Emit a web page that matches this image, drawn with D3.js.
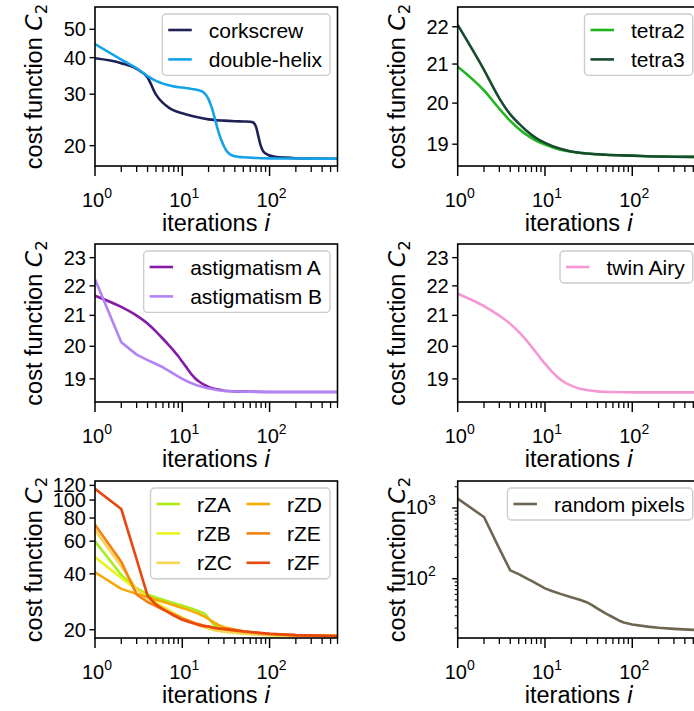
<!DOCTYPE html>
<html><head><meta charset="utf-8">
<script src="https://cdn.jsdelivr.net/npm/d3@7"></script>
<style>body{margin:0;background:#fff}svg{display:block}</style>
</head><body>
<svg id="c" width="694" height="711"></svg>
<script>
// ---------------- data ----------------
const xTicksMajor = [1, 10, 100];
const xTickExp = ["0", "1", "2"];

const corkX = [1,2,3,4,5,6,7,8,10,12,15,20,30,40,50,60,65,70,75,80,85,90,100,120,150,200,300,600];
const corkY = [39.8,38.3,36.6,34.2,29.9,28.0,27.0,26.4,25.8,25.4,25.0,24.6,24.35,24.25,24.2,24.15,24.0,23.2,21.3,19.8,19.1,18.8,18.5,18.3,18.2,18.12,18.08,18.05];
const helixX = [1,2,3,4,5,6,7,8,10,12,15,17,18,19,20,21,22,23,24,25,26,27,28,30,33,36,40,50,70,100,200,600];
const helixY = [44.5,39.4,36.8,34.6,33.3,32.6,32.2,31.9,31.6,31.35,31.0,30.6,30.2,29.6,28.8,27.8,26.7,25.5,24.3,23.2,22.3,21.5,20.9,19.9,19.0,18.6,18.4,18.25,18.15,18.1,18.07,18.05];

const tetraX = [1,2,3,4,5,6,8,10,15,20,30,50,100,200,600];
const tetra2Y = [20.93,20.32,19.86,19.56,19.37,19.24,19.08,18.99,18.87,18.82,18.78,18.75,18.73,18.71,18.70];
const tetra3Y = [22.05,20.85,20.12,19.72,19.50,19.34,19.14,19.03,18.89,18.83,18.78,18.75,18.73,18.71,18.70];

const astAX = [1,2,3,4,5,6,7,8,9,10,11,12,13,14,16,18,20,25,30,40,60,100,600];
const astAY = [21.66,21.28,20.99,20.73,20.47,20.24,20.04,19.86,19.69,19.52,19.37,19.23,19.11,19.02,18.90,18.82,18.76,18.69,18.65,18.63,18.62,18.61,18.61];
const astBX = [1,2,3,4,5,6,8,10,12,15,19,25,30,50,100,600];
const astBY = [22.23,20.13,19.74,19.57,19.45,19.35,19.15,19.0,18.9,18.8,18.73,18.67,18.64,18.62,18.61,18.61];

const airyX = [1,2,3,4,5,6,7,8,9,10,12,14,16,20,25,30,40,60,100,600];
const airyY = [21.73,21.31,20.99,20.72,20.46,20.22,19.99,19.79,19.61,19.46,19.22,19.05,18.93,18.80,18.71,18.67,18.63,18.61,18.6,18.6];

const rzX = [1,2,3,4,5,6,8,10,12,15,18,20,23,26,30,50,100,200,600];
const rZA = [59.9,39.5,33.5,31.0,29.8,29.0,27.8,27.0,26.3,25.3,24.4,23.0,21.3,20.6,20.0,19.3,18.8,18.6,18.5];
const rZB = [49.3,38.0,33.0,30.0,28.0,26.6,24.6,23.2,22.3,21.3,20.7,20.4,20.0,19.8,19.6,19.1,18.7,18.55,18.5];
const rZC = [69.0,44.0,33.0,29.5,27.5,26.1,24.3,23.1,22.2,21.2,20.6,20.3,19.9,19.7,19.5,19.0,18.7,18.55,18.5];
const rZD = [40.8,33.2,31.2,30.0,29.0,28.3,27.1,26.2,25.5,24.5,23.5,22.8,21.9,21.2,20.6,19.6,18.9,18.6,18.5];
const rZE = [73.7,46.5,31.0,28.2,26.8,25.7,24.2,23.0,22.3,21.5,21.0,20.8,20.5,20.3,20.1,19.5,19.0,18.7,18.5];
const rZF = [115,89.5,47.9,30.5,27.3,25.8,23.8,22.6,22.0,21.3,20.9,20.8,20.5,20.3,20.2,19.6,19.0,18.7,18.5];

const randX = [1,2,3,4,5,6,7,8,10,12,15,20,25,30,35,40,50,60,70,80,100,150,200,300,600];
const randY = [1355,747,266,131,116,103,93,85,73,67,61,54.5,50.5,46.5,42,37.8,32,28.5,25.7,24,22.5,21,20.2,19.5,18.7];

const yTicks1 = [20,30,40,50];
const yTicks2 = [19,20,21,22];
const yTicks3 = [19,20,21,22,23];
const yTicks5 = [20,40,60,80,100,120];
const yTicks6 = [100,1000];
const yTick6Exp = ["2","3"];

// ---------------- layout ----------------
const FONT = '"Liberation Sans", Arial, Helvetica, sans-serif';
const MATH = '"DejaVu Sans", sans-serif';
const cols = [{x0:95, x1:337.5},{x0:457.7, x1:700.2}];
const rows = [{y0:7, y1:166},{y0:244, y1:402},{y0:481, y1:638}];
const xDomain = [1, 600];

const panels = [
  {c:0, r:0, yd:[17.04,59.6], ticks:yTicks1, series:[
    {name:"corkscrew", x:corkX, y:corkY, color:"#1e2156", curve:"smooth"},
    {name:"double-helix", x:helixX, y:helixY, color:"#14a2e8", curve:"smooth"}], ncol:1},
  {c:1, r:0, yd:[18.49,22.55], ticks:yTicks2, series:[
    {name:"tetra2", x:tetraX, y:tetra2Y, color:"#1fb51f", curve:"smooth"},
    {name:"tetra3", x:tetraX, y:tetra3Y, color:"#184b2d", curve:"smooth"}], ncol:1},
  {c:0, r:1, yd:[18.32,23.5], ticks:yTicks3, series:[
    {name:"astigmatism A", x:astAX, y:astAY, color:"#851ca8", curve:"smooth"},
    {name:"astigmatism B", x:astBX, y:astBY, color:"#b283f5", curve:"linear"}], ncol:1},
  {c:1, r:1, yd:[18.32,23.5], ticks:yTicks3, series:[
    {name:"twin Airy", x:airyX, y:airyY, color:"#f497d4", curve:"smooth"}], ncol:1},
  {c:0, r:2, yd:[18.04,126.7], ticks:yTicks5, series:[
    {name:"rZA", x:rzX, y:rZA, color:"#aaec1c", curve:"linear"},
    {name:"rZB", x:rzX, y:rZB, color:"#e8f41c", curve:"linear"},
    {name:"rZC", x:rzX, y:rZC, color:"#f6d656", curve:"linear"},
    {name:"rZD", x:rzX, y:rZD, color:"#f7aa06", curve:"linear"},
    {name:"rZE", x:rzX, y:rZE, color:"#f6800e", curve:"linear"},
    {name:"rZF", x:rzX, y:rZF, color:"#e8470f", curve:"linear"}], ncol:2},
  {c:1, r:2, yd:[14.5,2410], ticks:yTicks6, exp:yTick6Exp, minor:true, series:[
    {name:"random pixels", x:randX, y:randY, color:"#6f6553", curve:"linear"}], ncol:1},
];

const svg = d3.select("#c");
svg.append("rect").attr("width",694).attr("height",711).attr("fill","#fff");
const defs = svg.append("defs");

panels.forEach((p, pi) => {
  const C = cols[p.c], R = rows[p.r];
  const x = d3.scaleLog().domain(xDomain).range([C.x0, C.x1]);
  const y = d3.scaleLog().domain(p.yd).range([R.y1, R.y0]);
  const g = svg.append("g");

  defs.append("clipPath").attr("id","clip"+pi).append("rect")
    .attr("x",C.x0).attr("y",R.y0).attr("width",C.x1-C.x0).attr("height",R.y1-R.y0);

  // data lines
  const lg = g.append("g").attr("clip-path","url(#clip"+pi+")");
  p.series.forEach(s => {
    const pts = s.x.map((v,i)=>[v, s.y[i]]);
    const line = d3.line().x(d=>x(d[0])).y(d=>y(d[1]))
      .curve(s.curve==="smooth" ? d3.curveMonotoneX : d3.curveLinear);
    lg.append("path").attr("d", line(pts)).attr("fill","none")
      .attr("stroke", s.color).attr("stroke-width",2.6)
      .attr("stroke-linejoin","round").attr("stroke-linecap","butt");
  });

  // x ticks
  const minorX = [];
  [1,10,100].forEach(dec => { for (let k=2;k<=9;k++){ const v=dec*k; if (v<=xDomain[1]+1e-9) minorX.push(v);} });
  minorX.forEach(v => {
    g.append("line").attr("x1",x(v)).attr("x2",x(v)).attr("y1",R.y1).attr("y2",R.y1+6)
      .attr("stroke","#000").attr("stroke-width",1.3);
  });
  xTicksMajor.forEach((v,i) => {
    g.append("line").attr("x1",x(v)).attr("x2",x(v)).attr("y1",R.y1).attr("y2",R.y1+10)
      .attr("stroke","#000").attr("stroke-width",1.5);
    const t = g.append("text").attr("x",x(v)+2).attr("y",R.y1+40.5)
      .attr("text-anchor","middle").attr("font-family",FONT).attr("font-size",20).attr("fill","#000");
    t.append("tspan").text("10");
    t.append("tspan").attr("dy",-9).attr("font-size",14).text(xTickExp[i]);
  });

  // y ticks
  if (p.minor) {
    const lo = Math.floor(Math.log10(p.yd[0])), hi = Math.ceil(Math.log10(p.yd[1]));
    for (let e=lo;e<=hi;e++) for (let k=2;k<=9;k++){
      const v = k*Math.pow(10,e);
      if (v>=p.yd[0] && v<=p.yd[1]) g.append("line").attr("x1",C.x0-3).attr("x2",C.x0)
        .attr("y1",y(v)).attr("y2",y(v)).attr("stroke","#000").attr("stroke-width",1.1);
    }
  }
  p.ticks.forEach((v,i) => {
    g.append("line").attr("x1",C.x0-5.5).attr("x2",C.x0).attr("y1",y(v)).attr("y2",y(v))
      .attr("stroke","#000").attr("stroke-width",1.4);
    if (p.exp) {
      const t = g.append("text").attr("x",C.x0-22).attr("y",y(v)+6)
        .attr("text-anchor","end").attr("font-family",FONT).attr("font-size",20).attr("fill","#000");
      t.append("tspan").text("10");
      t.append("tspan").attr("dy",-9).attr("font-size",14).text(p.exp[i]);
    } else {
      g.append("text").attr("x",C.x0-9).attr("y",y(v)+7)
        .attr("text-anchor","end").attr("font-family",FONT).attr("font-size",20)
        .attr("fill","#000").text(d3.format("d")(v));
    }
  });

  // spines
  g.append("rect").attr("x",C.x0).attr("y",R.y0).attr("width",C.x1-C.x0).attr("height",R.y1-R.y0)
    .attr("fill","none").attr("stroke","#000").attr("stroke-width",1.6);

  // axis labels
  const xl = g.append("text").attr("x",(C.x0+C.x1)/2).attr("y",R.y1+64.5)
    .attr("text-anchor","middle").attr("font-family",FONT).attr("font-size",23.5).attr("fill","#000");
  xl.append("tspan").text("iterations ");
  xl.append("tspan").attr("font-family",MATH).attr("font-style","italic").text("i");

  const yl = g.append("text")
    .attr("transform",`translate(${C.x0-53},${(R.y0+R.y1)/2}) rotate(-90)`)
    .attr("text-anchor","middle").attr("font-family",FONT).attr("font-size",23.5).attr("fill","#000");
  yl.append("tspan").text("cost function ");
  yl.append("tspan").attr("font-family",MATH).attr("font-style","italic").text("C");
  yl.append("tspan").attr("font-family",MATH).attr("font-size",16.5).attr("dy",5).text("2");

  // legend
  const lgG = g.append("g");
  const FS = 21;
  const n = p.series.length, ncol = p.ncol, nrow = Math.ceil(n/ncol);
  const colW = [];
  for (let ci=0; ci<ncol; ci++) {
    let w = 0;
    for (let ri=0; ri<nrow; ri++){
      const s = p.series[ci*nrow+ri]; if(!s) continue;
      const tmp = svg.append("text").attr("font-family",FONT).attr("font-size",FS).text(s.name);
      w = Math.max(w, tmp.node().getComputedTextLength()); tmp.remove();
    }
    colW.push(w);
  }
  const padL = 6, handle = 23.5, gapT = 17, colGap = 14.5, padR = 8;
  let boxW = padL + padR;
  colW.forEach((w,ci)=>{ boxW += handle + gapT + w + (ci>0?colGap:0); });
  const boxH = 32 + (nrow-1)*29.4;
  const bx = C.x1 - 7.5 - boxW, by = R.y0 + 7;
  lgG.append("rect").attr("x",bx).attr("y",by).attr("width",boxW).attr("height",boxH)
    .attr("rx",4).attr("fill","#fff").attr("fill-opacity",0.8)
    .attr("stroke","#cccccc").attr("stroke-width",1.4);
  let cx = bx + padL;
  for (let ci=0; ci<ncol; ci++){
    for (let ri=0; ri<nrow; ri++){
      const s = p.series[ci*nrow+ri]; if(!s) continue;
      const cy = by + 16 + ri*29.4;
      lgG.append("line").attr("x1",cx).attr("x2",cx+handle).attr("y1",cy).attr("y2",cy)
        .attr("stroke",s.color).attr("stroke-width",2.6);
      lgG.append("text").attr("x",cx+handle+gapT).attr("y",cy+7.5)
        .attr("font-family",FONT).attr("font-size",FS).attr("fill","#000").text(s.name);
    }
    cx += handle + gapT + colW[ci] + colGap;
  }
});
</script>
</body></html>
